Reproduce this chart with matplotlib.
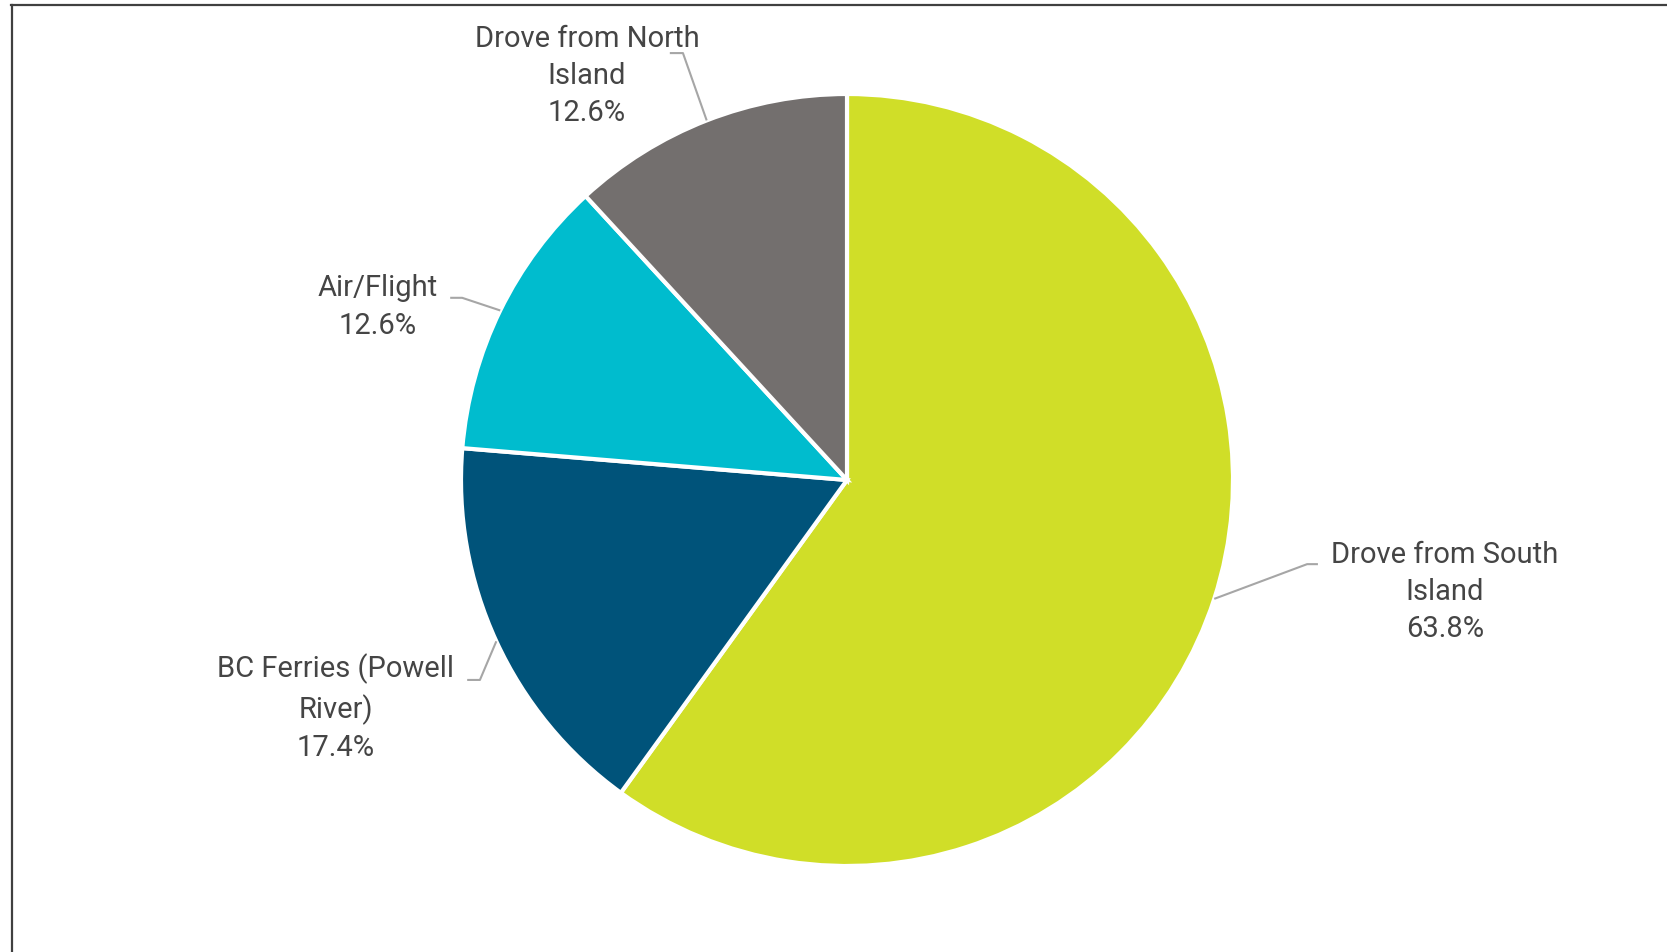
import numpy as np
import matplotlib
matplotlib.use('Agg')
import matplotlib.pyplot as plt
from matplotlib.lines import Line2D

# travel mode shares (percent as labelled)
categories = ['Drove from South\nIsland', 'BC Ferries (Powell\nRiver)', 'Air/Flight',
              'Drove from North\nIsland']
shares = [63.8, 17.4, 12.6, 12.6]
colors = ['#D0DE28', '#00537A', '#00BCCE', '#736F6E']

# label block centres and leader elbows, in pie-radius units
label_pos = [(1.549, -0.29), (-1.324, -0.591), (-1.215, 0.448), (-0.674, 1.047)]
leader_elbow = [[(1.192, -0.218), (1.220, -0.218)],
                [(-0.951, -0.518), (-0.984, -0.518)],
                [(-0.997, 0.472), (-1.028, 0.472)],
                [(-0.425, 1.106), (-0.459, 1.106)]]

plt.rcParams['font.family'] = ['Roboto', 'DejaVu Sans']

W, H = 1667, 952
fig = plt.figure(figsize=(W / 100, H / 100), dpi=100)
ax = fig.add_axes([0, 0, 1, 1])

wedges, _ = ax.pie(shares, colors=colors, startangle=90, counterclock=False,
                   radius=1.0, wedgeprops=dict(edgecolor='white', linewidth=3))

# pie centre at (847, 480) px with a radius of 386 px
cx, cy, r = 847, 480, 386
ax.set_xlim(-cx / r, (W - cx) / r)
ax.set_ylim(-(H - cy) / r, cy / r)
ax.set_aspect('auto')
ax.axis('off')

for w, lab, val, (tx, ty), elbow in zip(wedges, categories, shares, label_pos, leader_elbow):
    mid = np.deg2rad((w.theta1 + w.theta2) / 2)
    ex, ey = np.cos(mid), np.sin(mid)
    xs = [ex] + [p[0] for p in elbow]
    ys = [ey] + [p[1] for p in elbow]
    ax.plot(xs, ys, color='#A6A6A6', linewidth=1.5, solid_capstyle='butt')
    ax.text(tx, ty, f'{lab}\n{val:.1f}%', ha='center', va='center',
            fontsize=21, color='#454545', linespacing=1.42)

# chart frame (top and left edges)
fig.add_artist(Line2D([11 / W, 1], [1 - 4.5 / H, 1 - 4.5 / H], color='#404040', linewidth=1.6))
fig.add_artist(Line2D([11.5 / W, 11.5 / W], [0, 1 - 4.5 / H], color='#404040', linewidth=1.6))

fig.savefig('out.png', dpi=100)
